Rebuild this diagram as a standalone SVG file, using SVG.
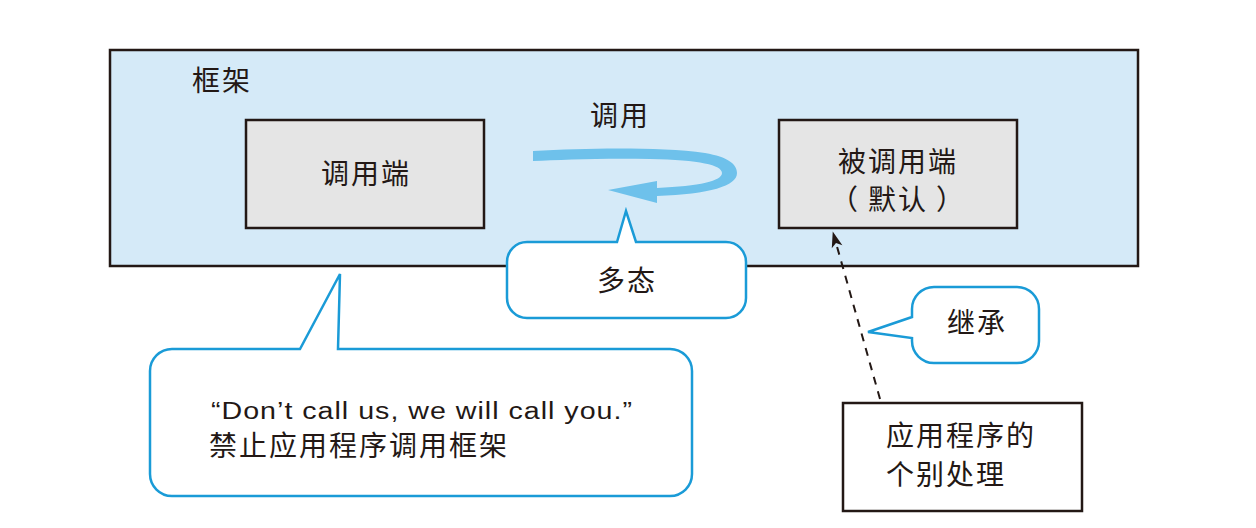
<svg xmlns="http://www.w3.org/2000/svg" width="1256" height="528" viewBox="0 0 1256 528">
<style>
.t{font-family:"Noto Sans CJK SC","Liberation Sans",sans-serif;font-size:28px;letter-spacing:2px;fill:#231815}
.m{text-anchor:middle}
.en{font-family:"Liberation Sans","Noto Sans CJK SC",sans-serif;font-size:23px;letter-spacing:0.8px;fill:#231815}
.box{fill:#e5e5e5;stroke:#231815;stroke-width:2.5}
.call{fill:#ffffff;stroke:#1a9bd7;stroke-width:2.5;stroke-linejoin:miter}
</style>
<defs>
<marker id="ah" viewBox="-5 -6 18 12" refX="0" refY="0" markerWidth="18" markerHeight="12" markerUnits="userSpaceOnUse" orient="auto">
<path d="M12,0 L-4,-5.5 L0,0 L-4,5.5 Z" fill="#231815"/>
</marker>
</defs>
<g id="framework">
<rect x="110" y="50" width="1028" height="216" fill="#d5eaf8" stroke="#231815" stroke-width="2.5"/>
<text class="t" x="192" y="91">框架</text>
</g>
<g id="caller">
<rect class="box" x="246" y="120" width="238" height="108"/>
<text class="t m" x="366" y="184">调用端</text>
</g>
<g id="callee">
<rect class="box" x="779" y="120" width="238" height="108"/>
<text class="t m" x="898" y="172">被调用端</text>
<text class="t m" x="898" y="210">（<tspan dx="8">默认</tspan><tspan dx="8">）</tspan></text>
</g>
<g id="connectors">
<text class="t m" x="620" y="126">调用</text>
<path d="M533,151 C590,148 660,147 705,153 C728,157 737,164 737,173 C737,186 710,194 657,196 L657,188 C700,186 722,181 722,173 C722,165 700,160 650,159 C600,158 560,160 533,161 Z" fill="#6ec1eb"/>
<polygon points="608,190 657,181 657,203" fill="#6ec1eb"/>
<line x1="880" y1="399" x2="836" y2="243" stroke="#231815" stroke-width="2" stroke-dasharray="8 7" marker-end="url(#ah)"/>
</g>
<g id="polymorphism">
<path class="call" d="M527,242 L617,242 L626,211 L636,242 L726,242 A20 20 0 0 1 746,262 L746,298 A20 20 0 0 1 726,318 L527,318 A20 20 0 0 1 507,298 L507,262 A20 20 0 0 1 527,242 Z"/>
<text class="t m" x="627" y="291">多态</text>
</g>
<g id="hollywood">
<path class="call" d="M172,349 L300,349 L340,274 L338,349 L670,349 A22 22 0 0 1 692,371 L692,474 A22 22 0 0 1 670,496 L172,496 A22 22 0 0 1 150,474 L150,371 A22 22 0 0 1 172,349 Z"/>
<text class="en" x="211" y="419" textLength="422" lengthAdjust="spacingAndGlyphs">“Don’t call us, we will call you.”</text>
<text class="t" x="209" y="456">禁止应用程序调用框架</text>
</g>
<g id="inheritance">
<path class="call" d="M934,287 L1017,287 A22 22 0 0 1 1039,309 L1039,341 A22 22 0 0 1 1017,363 L934,363 A22 22 0 0 1 912,341 L912,338 L868,332 L912,317 L912,309 A22 22 0 0 1 934,287 Z"/>
<text class="t m" x="977" y="333">继承</text>
</g>
<g id="application">
<rect x="843" y="403" width="239" height="108" fill="#ffffff" stroke="#231815" stroke-width="2.5"/>
<text class="t" x="886" y="446">应用程序的</text>
<text class="t" x="886" y="485">个别处理</text>
</g>
</svg>
